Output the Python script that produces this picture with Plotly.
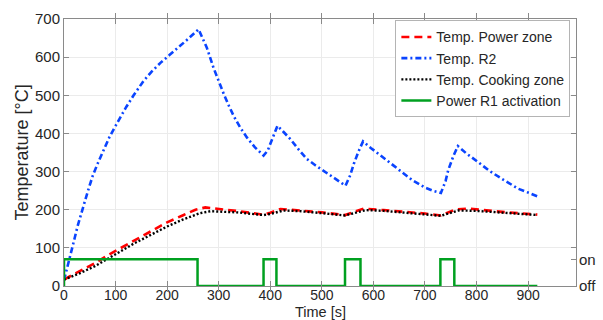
import plotly.graph_objects as go

# ---- data ----
t_power = [0, 30, 60, 84, 110, 135, 170, 200, 230, 255, 274, 303, 340, 387, 400, 420,
           460, 500, 545, 560, 581, 620, 660, 700, 731, 745, 760, 784, 820, 860, 918]
temp_power = [17, 38, 60, 80, 100, 119, 145, 167, 185, 200, 206, 202, 196, 187, 192, 202,
              198, 193, 186, 193, 203, 199, 195, 190, 185, 193, 201, 203, 198, 193, 187]

t_r2 = [0, 5, 10, 15, 20, 26, 32, 40, 48, 56, 65, 75, 88, 100, 110, 121, 135, 154, 170, 187,
        205, 220, 240, 261, 270, 277, 290, 300, 310, 320, 329, 342, 355, 370, 387,
        395, 400, 407, 414, 425, 439, 455, 471, 488, 504, 525, 546,
        555, 562, 571, 580, 595, 620, 640, 655, 675, 700, 715, 731,
        740, 745, 755, 764, 780, 803, 825, 848, 865, 881, 900, 918]
temp_r2 = [15, 40, 68, 95, 122, 155, 185, 220, 256, 290, 320, 350, 390, 420, 445, 470, 500, 537, 562, 585,
           606, 623, 647, 673, 648, 625, 572, 536, 503, 472, 446, 415, 389, 364, 342,
           355, 372, 398, 420, 405, 385, 358, 333, 316, 302, 282, 263,
           290, 320, 352, 379, 362, 337, 315, 299, 278, 258, 250, 244,
           275, 303, 340, 367, 348, 325, 302, 282, 268, 255, 245, 235]

t_cook = [0, 30, 60, 84, 110, 135, 170, 200, 230, 264, 284, 336, 387, 400, 426, 460, 500,
          545, 560, 585, 620, 660, 700, 731, 745, 765, 800, 860, 918]
temp_cook = [17, 33, 52, 70, 91, 111, 135, 156, 174, 191, 196, 193, 186, 189, 198, 196, 191,
             185, 190, 199, 197, 193, 189, 184, 190, 198, 197, 192, 186]

t_r1 = [0, 0, 259, 259, 387, 387, 412, 412, 545, 545, 575, 575, 730, 730, 757, 757, 918]
r1_state = [0, 1, 1, 0, 0, 1, 1, 0, 0, 1, 1, 0, 0, 1, 1, 0, 0]

x_ticks = [0, 100, 200, 300, 400, 500, 600, 700, 800, 900]
y_ticks = [0, 100, 200, 300, 400, 500, 600, 700]
state_ticks = [0, 1]
state_labels = ["off", "on"]

FONT = "Liberation Sans, Arial, Helvetica, sans-serif"
TXT = "#262626"
AX = "#8a8a8a"
GRID = "#ebebeb"

fig = go.Figure()
fig.add_trace(go.Scatter(x=t_power, y=temp_power, mode="lines", name="Temp. Power zone",
                         line=dict(color="#ff0000", width=2.6, dash="8px,5px")))
fig.add_trace(go.Scatter(x=t_r2, y=temp_r2, mode="lines", name="Temp. R2",
                         line=dict(color="#0a44ff", width=2.6, dash="6px,3px,2px,3px")))
fig.add_trace(go.Scatter(x=t_cook, y=temp_cook, mode="lines", name="Temp. Cooking zone",
                         line=dict(color="#000000", width=2.4, dash="2px,2px")))
fig.add_trace(go.Scatter(x=t_r1, y=r1_state, mode="lines", name="Power R1 activation",
                         yaxis="y2", line=dict(color="#00a020", width=2.5)))

fig.update_layout(
    width=603, height=320,
    margin=dict(l=64, r=27, t=19, b=34),
    paper_bgcolor="white", plot_bgcolor="white",
    font=dict(family=FONT, size=15, color=TXT),
    showlegend=True,
    legend=dict(x=0.989, y=0.995, xanchor="right", yanchor="top",
                bgcolor="white", bordercolor="#b4b4b4", borderwidth=1,
                font=dict(size=14, color=TXT), tracegroupgap=0,
                itemwidth=30),
    xaxis=dict(range=[0, 993], tickvals=x_ticks, showgrid=True, gridcolor=GRID,
               zeroline=False, showline=True, linecolor=AX, linewidth=1,
               mirror="allticks", ticks="inside", ticklen=5, tickcolor=AX,
               tickfont=dict(size=14, color=TXT), automargin=False,
               ticklabelstandoff=-4),
    yaxis=dict(range=[0, 700], tickvals=y_ticks, showgrid=True, gridcolor=GRID,
               zeroline=False, showline=True, linecolor=AX, linewidth=1,
               mirror="allticks", ticks="inside", ticklen=5, tickcolor=AX,
               tickfont=dict(size=15, color=TXT), automargin=False),
    yaxis2=dict(range=[0, 10], overlaying="y", side="right", tickvals=state_ticks,
                ticktext=state_labels, showgrid=False, zeroline=False, showline=False,
                ticks="inside", ticklen=5, tickcolor=AX,
                tickfont=dict(size=15, color=TXT), automargin=False,
                ticklabelstandoff=2),
    annotations=[
        dict(text="Temperature [°C]", xref="paper", yref="paper", x=0, y=0.5,
             xshift=-43, textangle=-90, xanchor="center", yanchor="middle",
             showarrow=False, font=dict(size=18, color=TXT)),
        dict(text="Time [s]", xref="paper", yref="paper", x=0.5, y=0,
             yshift=-16, xanchor="center", yanchor="top",
             showarrow=False, font=dict(size=14.5, color=TXT)),
    ],
)

fig.write_html("out.html", config={"displayModeBar": False},
               post_script="document.body.style.margin='0';")
